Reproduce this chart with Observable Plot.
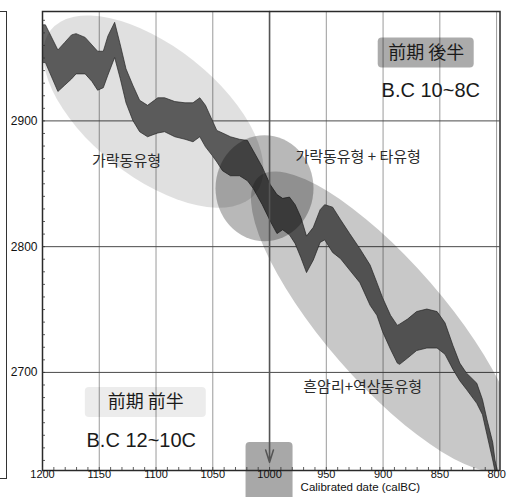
<!DOCTYPE html>
<html><head><meta charset="utf-8">
<script src="https://cdn.jsdelivr.net/npm/d3@7"></script>
<script src="https://cdn.jsdelivr.net/npm/@observablehq/plot@0.6"></script>
<style>
body{margin:0;background:#fff;}
#wrap{position:relative;width:507px;height:497px;overflow:hidden;}
#bracket{position:absolute;left:-2px;top:11px;width:8px;height:466px;border:1px solid #333;border-left:none;}
#chart{position:absolute;left:0;top:0;}
</style></head><body>
<div id="wrap"><div id="bracket"></div><div id="chart"></div></div>
<script>
// Calibration curve band (calBC year, upper and lower radiocarbon age BP)
const years = [1200,1197,1186,1180,1174,1170,1162,1156,1151,1146,1142,1136,1131,1126,1120,1114,1107,1098,1092,1083,1074,1067,1061,1056,1050,1046,1041,1034,1026,1019,1014,1006,999,993,988,982,977,972,967,961,955,951,944,937,929,920,911,905,900,893,887,885,878,870,861,852,845,838,832,826,817,812,808,803,801,798];
const upper = [2976,2976,2956,2962,2968,2969,2966,2960,2955,2955,2967,2978,2960,2941,2928,2916,2912,2918,2918,2915,2914,2914,2918,2912,2900,2892,2890,2887,2885,2884,2876,2863,2849,2841,2838,2839,2833,2823,2808,2815,2829,2833,2831,2821,2810,2798,2785,2771,2759,2745,2737,2738,2742,2748,2750,2748,2739,2721,2707,2699,2691,2678,2662,2644,2630,2618];
const lower = [2946,2946,2923,2928,2933,2937,2937,2931,2924,2926,2936,2950,2933,2914,2900,2891,2887,2890,2891,2887,2885,2883,2887,2879,2872,2867,2860,2856,2856,2852,2846,2833,2820,2810,2813,2809,2802,2791,2779,2789,2803,2805,2795,2790,2781,2771,2753,2745,2732,2718,2707,2706,2711,2717,2719,2719,2714,2702,2693,2686,2675,2666,2650,2630,2621,2614];

// Axis ticks
const xTicks = [1200,1150,1100,1050,1000,950,900,850,800];
const yTicks = [2700,2800,2900];
const xDomain = [1200,797];
const yDomain = [2622,2987];
const xLabel = "Calibrated date (calBC)";

// Group labels
const groupNames = ["가락동유형","가락동유형 + 타유형","흔암리+역삼동유형"];
const groupYears = [1126,922,918];
const groupC14 = [2868,2871,2688];

// Period labels
const periodNames = ["前期 後半","前期 前半"];
const periodRanges = ["B.C 10~8C","B.C 12~10C"];
const periodYears = [862,1109];
const periodC14 = [2954,2676];
const rangeYears = [858,1113];
const rangeC14 = [2924,2646];

// Highlighted year
const markYear = 1000;
const arrowEnd = 2628.5;

// Zones (centre in data units)
const zoneYears = [1102,1004,898];
const zoneC14 = [2907,2846,2740];

const band = years.map((y,i)=>({year:y, hi:upper[i], lo:lower[i]}));
const zones = zoneYears.map((y,i)=>({year:y, c14:zoneC14[i]}));
const zoneStyle = [
  {rx:131, ry:65, angle:38.5, op:0.12},
  {rx:49, ry:53, angle:0, op:0.28},
  {rx:192, ry:60, angle:49, op:0.215}
];
const groups = groupNames.map((t,i)=>({t, year:groupYears[i], c14:groupC14[i]}));
const periods = periodNames.map((t,i)=>({t, year:periodYears[i], c14:periodC14[i]}));
const periodStyle = [{w:96,h:30,op:0.33},{w:121,h:30,op:0.075}];
const ranges = periodRanges.map((t,i)=>({t, year:rangeYears[i], c14:rangeC14[i]}));

let clipN = 0;
function zoneRender(index, scales, values, dim) {
  const g = d3.create("svg:g");
  const id = "zclip" + (clipN++);
  g.append("clipPath").attr("id", id).append("rect")
    .attr("x", dim.marginLeft).attr("y", dim.marginTop)
    .attr("width", dim.width - dim.marginLeft - dim.marginRight)
    .attr("height", dim.height - dim.marginTop - dim.marginBottom);
  const inner = g.append("g").attr("clip-path", `url(#${id})`);
  for (const i of index) {
    const s = zoneStyle[i], cx = values.x[i], cy = values.y[i];
    inner.append("ellipse").attr("cx", cx).attr("cy", cy).attr("rx", s.rx).attr("ry", s.ry)
      .attr("transform", `rotate(${s.angle} ${cx} ${cy})`)
      .attr("fill", "#000").attr("fill-opacity", s.op);
  }
  return g.node();
}
function boxRender(index, scales, values, dim) {
  const g = d3.create("svg:g");
  for (const i of index) {
    const s = periodStyle[i], cx = values.x[i], cy = values.y[i];
    g.append("rect").attr("x", cx - s.w/2).attr("y", cy - s.h/2).attr("width", s.w).attr("height", s.h)
      .attr("rx", 4).attr("fill", "#000").attr("fill-opacity", s.op);
  }
  return g.node();
}
function markRender(index, scales, values, dim) {
  const g = d3.create("svg:g");
  const bottom = dim.height - dim.marginBottom;
  for (const i of index) {
    const cx = values.x[i];
    g.append("rect").attr("x", cx - 23.5).attr("y", bottom - 28).attr("width", 47).attr("height", 60)
      .attr("rx", 4).attr("fill", "#a8a8a8");
  }
  return g.node();
}

const W = 507, H = 497, mT = 11, mB = 27, mL = 42, mR = 7.5;
const innerH = H - mT - mB, innerW = W - mL - mR;

const chart = Plot.plot({
  width: W, height: H,
  marginTop: mT, marginBottom: mB, marginLeft: mL, marginRight: mR,
  style: {fontFamily: "'Liberation Sans', Arial, sans-serif", background: "transparent", color: "#222"},
  x: {domain: xDomain},
  y: {domain: yDomain},
  marks: [
    Plot.dot([{year: markYear}], {x: "year", frameAnchor: "bottom", render: markRender}),
    Plot.gridX(xTicks.filter(d => d !== 1200), {stroke: "#9a9a9a", strokeOpacity: 1, strokeWidth: 1}),
    Plot.gridY(yTicks, {stroke: "#4a4a4a", strokeOpacity: 1, strokeWidth: 1}),
    Plot.areaY(band, {x: "year", y1: "lo", y2: "hi", fill: "#686868", stroke: "#2e2e2e", strokeWidth: 0.7, curve: "linear", clip: true}),
    Plot.dot(zones, {x: "year", y: "c14", render: zoneRender}),
    Plot.dot(periods, {x: "year", y: "c14", render: boxRender}),
    Plot.text(periods, {x: "year", y: "c14", text: "t", fontSize: 18, fontFamily: "'Noto Sans CJK KR', sans-serif", fill: "#1a1a1a"}),
    Plot.text(ranges, {x: "year", y: "c14", text: "t", fontSize: 20, fill: "#1a1a1a"}),
    Plot.text(groups, {x: "year", y: "c14", text: "t", fontSize: 15, fontFamily: "'Noto Sans CJK KR', sans-serif", fill: "#2a2a2a"}),
    Plot.arrow([markYear], {x1: d => d, x2: d => d, y1: () => yDomain[1], y2: () => arrowEnd, stroke: "#555", strokeWidth: 1.6, headLength: 12, headAngle: 35}),
    Plot.frame({stroke: "#2a2a2a", strokeWidth: 1.5}),
    Plot.ruleX(d3.range(800, 1201, 10), {stroke: "#333", strokeWidth: 0.8, insetTop: innerH - 3}),
    Plot.ruleY(d3.range(2630, 2990, 10), {stroke: "#333", strokeWidth: 0.8, insetRight: innerW - 3}),
    Plot.axisX(xTicks, {tickSize: 0, tickPadding: 0, fontSize: 11, label: null, tickFormat: d => String(d), fill: "#111"}),
    Plot.axisY(yTicks, {tickSize: 0, tickPadding: 5, fontSize: 12, label: null, tickFormat: d => String(d), fill: "#111"}),
    Plot.text([{year: 920, t: xLabel}], {x: "year", text: "t", frameAnchor: "bottom", dy: 20.5, fontSize: 11.5, fill: "#111"})
  ]
});
document.getElementById("chart").appendChild(chart);
</script>
</body></html>
